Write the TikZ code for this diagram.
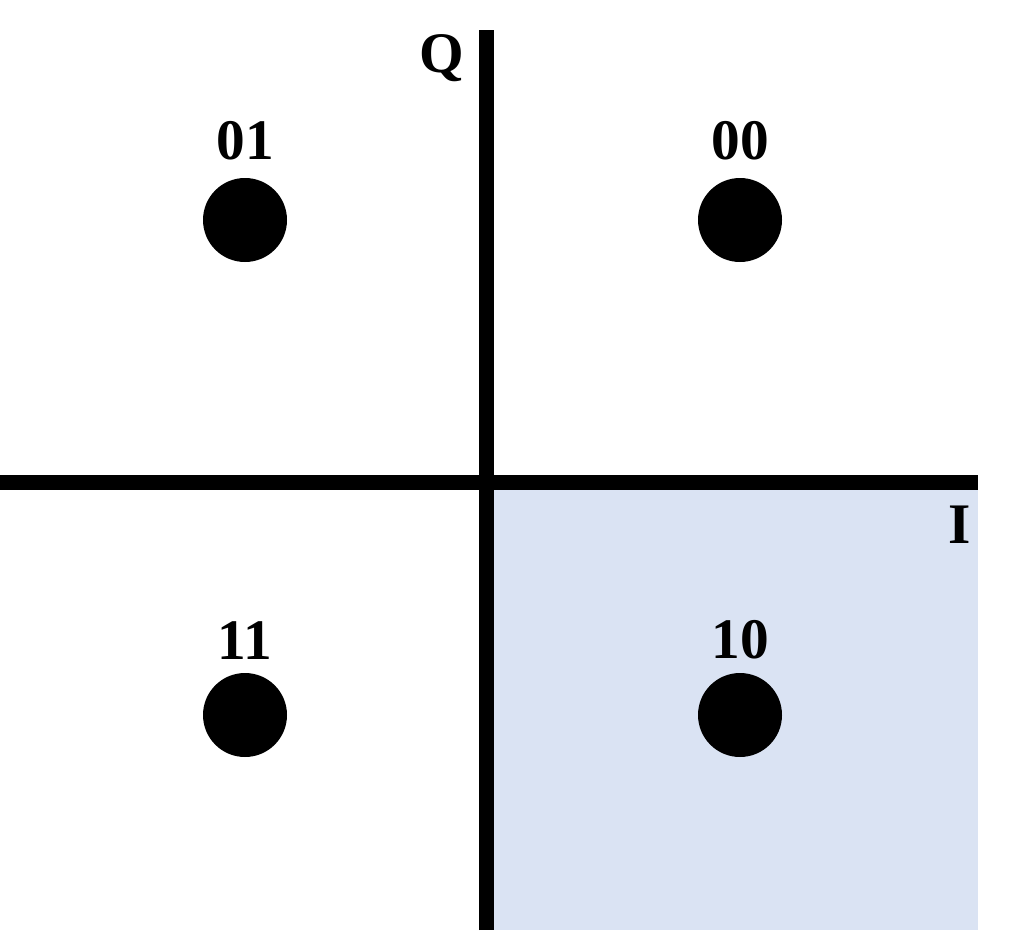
\documentclass[tikz,border=0pt]{standalone}
\usepackage{fontspec}
\setmainfont{Liberation Serif}
\usetikzlibrary{positioning}
\definecolor{qpskfill}{HTML}{DAE3F3}

\begin{document}
\begin{tikzpicture}[
  x=0.75pt,y=-0.75pt,
  axis/.style={draw=black,line width=11.25pt},
  symbol/.style={circle,fill=black,minimum size=63pt,inner sep=0pt},
  bits/.style={font=\fontsize{43}{50}\selectfont\bfseries,inner sep=0pt},
  axlabel/.style={font=\fontsize{43}{50}\selectfont\bfseries,inner sep=0pt}
]
\useasboundingbox (0,0) rectangle (1009,938);
% shaded quadrant
\fill[qpskfill] (486,482) rectangle (978,930);

\coordinate (west) at (0,482);
\coordinate (east) at (978,482);
\coordinate (south) at (486.5,930);
\coordinate (north) at (486.5,30);
\draw[axis] (west) -- (east);
\draw[axis] (south) -- (north);

\node[axlabel] (q) at (442,58) {Q};
\node[axlabel] (i) at (960,525) {I};

% constellation points
\node[symbol] (s01) at (245,220) {};
\node[symbol] (s00) at (740,220) {};
\node[symbol] (s11) at (245,715) {};
\node[symbol] (s10) at (740,715) {};

\node[bits,above=13pt of s01] (b01) {01};
\node[bits,above=13pt of s00] (b00) {00};
\node[bits,above=10pt of s11] (b11) {11};
\node[bits,above=10pt of s10] (b10) {10};
\end{tikzpicture}
\end{document}
